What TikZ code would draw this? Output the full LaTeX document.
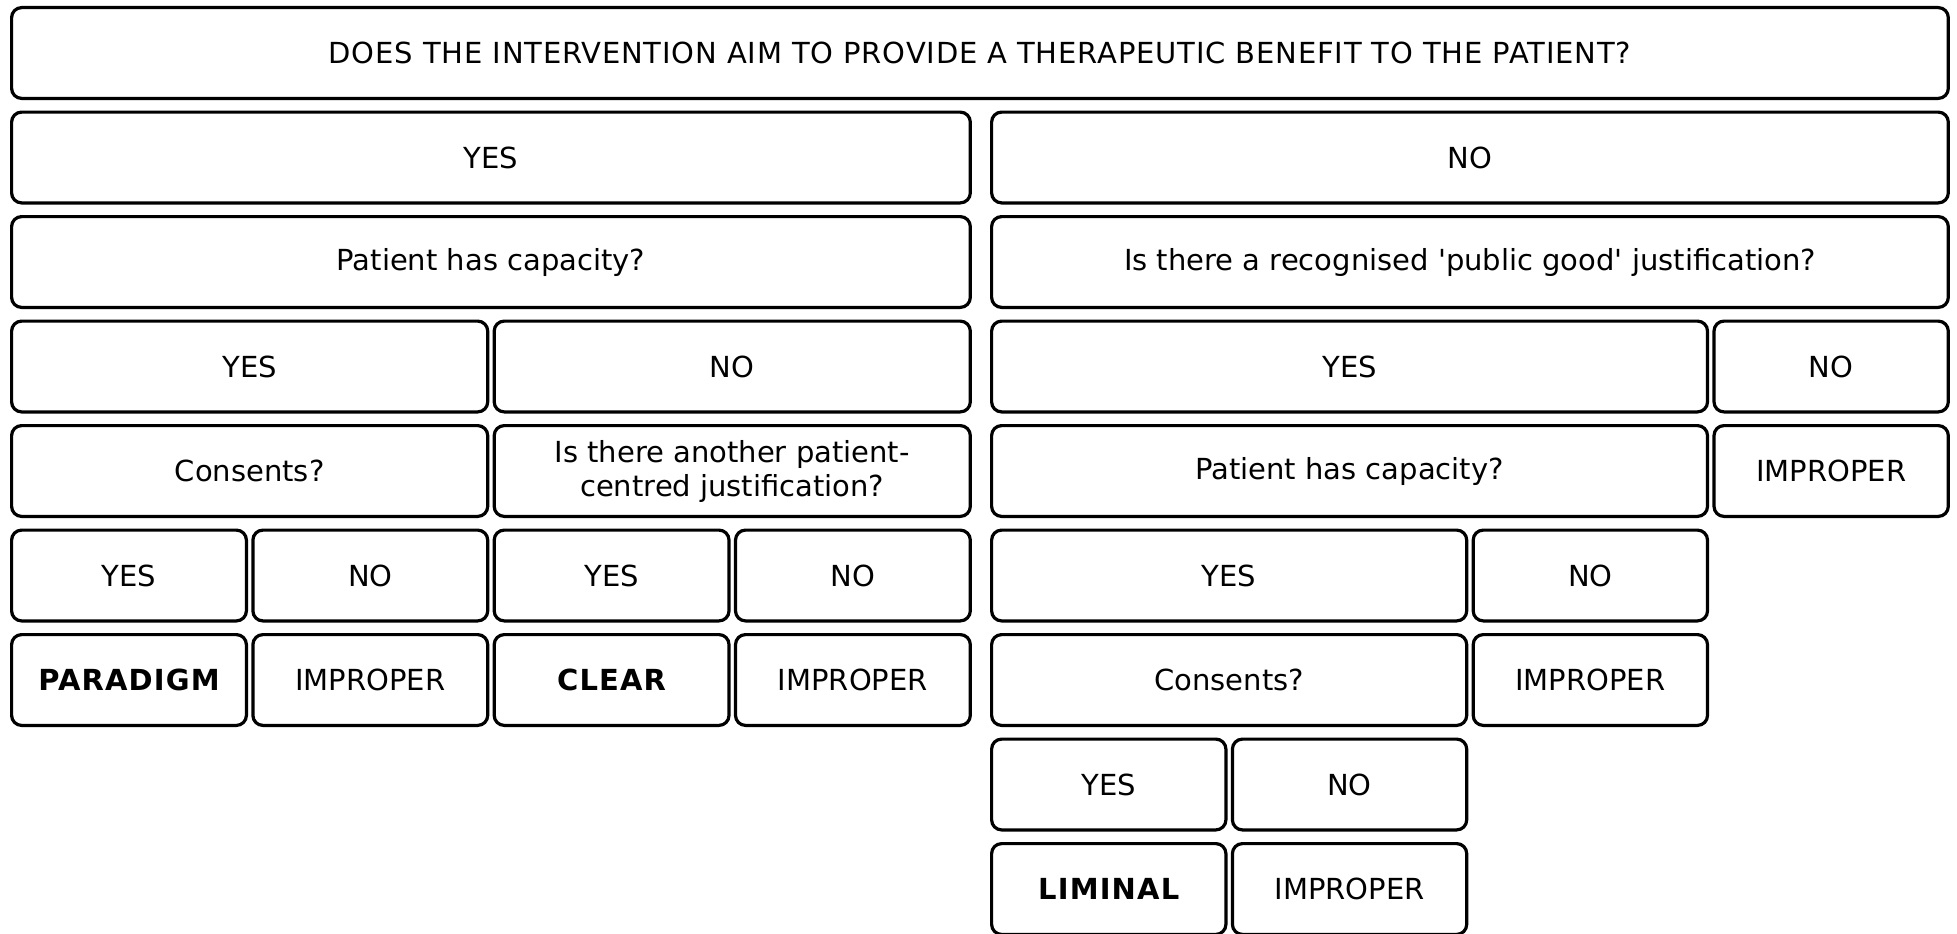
\documentclass[tikz,border=0pt]{standalone}
\usepackage{fontspec}
\setmainfont{DejaVu Sans}[Ligatures=TeXOff]
\newcommand\wideb[1]{{\bfseries\addfontfeature{LetterSpace=4}#1}}
\newcommand\widet[1]{{\addfontfeature{LetterSpace=2.8}#1}}
\tikzset{cell/.style={draw=black, line width=3.2pt, rounded corners=10pt, inner sep=0pt, align=center, font=\fontsize{29}{34}\selectfont, text=black}}
\newcommand\bx[5]{%
  \pgfmathsetmacro\bxL{#2<4 ? 10+#2*241.3 : 990+(#2-4)*240.8}%
  \pgfmathsetmacro\bxR{#3<4 ? 10+#3*241.3+238 : 990+(#3-4)*240.8+237.5}%
  \pgfmathsetmacro\bxT{6+#4*104.5}%
  \pgfmathsetmacro\bxC{(\bxL+\bxR)/2}%
  \pgfmathsetmacro\bxW{\bxR-\bxL-3.2}%
  \node[cell, minimum width=\bxW pt, minimum height=90.8pt] (#1) at (\bxC,\bxT+47) {#5};%
}
\begin{document}
\begin{tikzpicture}[x=1pt,y=-1pt]
\useasboundingbox (0,0) rectangle (1957,934);
\bx{q0}{0}{7}{0}{\widet{DOES THE INTERVENTION AIM TO PROVIDE A THERAPEUTIC BENEFIT TO THE PATIENT?}}
\bx{ya}{0}{3}{1}{YES}
\bx{na}{4}{7}{1}{NO}
\bx{qcap}{0}{3}{2}{Patient has capacity?}
\bx{qpub}{4}{7}{2}{Is there a recognised 'public good' justification?}
\bx{yb}{0}{1}{3}{YES}
\bx{nb}{2}{3}{3}{NO}
\bx{yc}{4}{6}{3}{YES}
\bx{nc}{7}{7}{3}{NO}
\bx{qcons}{0}{1}{4}{Consents?}
\bx{qoth}{2}{3}{4}{Is there another patient-\\centred justification?}
\bx{qcap2}{4}{6}{4}{Patient has capacity?}
\bx{imp1}{7}{7}{4}{IMPROPER}
\bx{yd}{0}{0}{5}{YES}
\bx{nd}{1}{1}{5}{NO}
\bx{ye}{2}{2}{5}{YES}
\bx{ne}{3}{3}{5}{NO}
\bx{yf}{4}{5}{5}{YES}
\bx{nf}{6}{6}{5}{NO}
\bx{para}{0}{0}{6}{\wideb{PARADIGM}}
\bx{imp2}{1}{1}{6}{IMPROPER}
\bx{clear}{2}{2}{6}{\wideb{CLEAR}}
\bx{imp3}{3}{3}{6}{IMPROPER}
\bx{qcons2}{4}{5}{6}{Consents?}
\bx{imp4}{6}{6}{6}{IMPROPER}
\bx{yg}{4}{4}{7}{YES}
\bx{ng}{5}{5}{7}{NO}
\bx{lim}{4}{4}{8}{\wideb{LIMINAL}}
\bx{imp5}{5}{5}{8}{IMPROPER}
\end{tikzpicture}
\end{document}
